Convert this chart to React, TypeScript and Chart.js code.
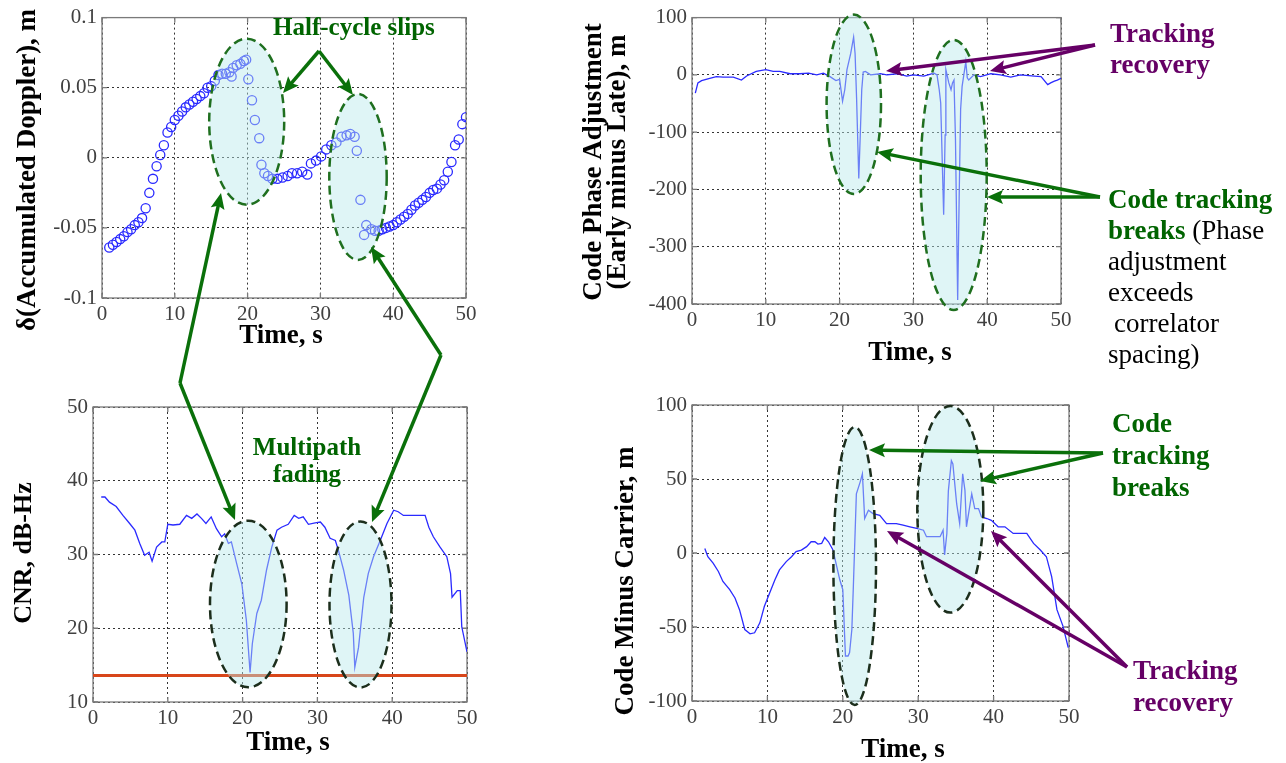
import React, { useEffect, useRef } from "react";
import { Chart, registerables } from "chart.js";

Chart.register(...registerables);

const SERIF = "'Liberation Serif', 'Times New Roman', Times, serif";

// ---------------- data ----------------
const TIME_TICKS = [0, 10, 20, 30, 40, 50];
const DOPPLER_TICKS = [-0.1, -0.05, 0, 0.05, 0.1];
const DOPPLER_TICK_LABELS = ["-0.1", "-0.05", "0", "0.05", "0.1"];
const CNR_TICKS = [10, 20, 30, 40, 50];
const CPA_TICKS = [-400, -300, -200, -100, 0, 100];
const CMC_TICKS = [-100, -50, 0, 50, 100];

// δ(Accumulated Doppler), m
const DOPPLER_T = [1.0, 1.5, 2.0, 2.5, 3.0, 3.5, 4.0, 4.5, 5.0, 5.5, 6.0, 6.5, 7.0, 7.5, 8.0, 8.5, 9.0, 9.5, 10.0, 10.5, 11.0, 11.5, 12.0, 12.5, 13.0, 13.5, 14.0, 14.5, 15.0, 15.5, 16.0, 16.5, 17.0, 17.5, 17.8, 18.0, 18.5, 19.0, 19.5, 19.8, 20.1, 20.6, 21.0, 21.6, 21.9, 22.3, 22.8, 23.4, 24.1, 24.8, 25.5, 26.1, 26.8, 27.5, 28.2, 28.7, 29.4, 30.1, 30.8, 31.5, 32.2, 32.9, 33.6, 34.1, 34.7, 35.0, 35.5, 36.0, 36.3, 37.0, 37.5, 38.0, 38.5, 39.0, 39.5, 40.0, 40.5, 41.0, 41.5, 42.0, 42.5, 43.0, 43.5, 44.0, 44.5, 45.0, 45.5, 46.0, 46.5, 47.0, 47.5, 48.0, 48.5, 49.0, 49.5, 50.0];
const DOPPLER_V = [-0.064, -0.062, -0.06, -0.058, -0.056, -0.053, -0.051, -0.048, -0.046, -0.043, -0.036, -0.025, -0.015, -0.006, 0.002, 0.009, 0.018, 0.022, 0.027, 0.03, 0.033, 0.036, 0.038, 0.04, 0.042, 0.044, 0.046, 0.05, 0.051, 0.055, 0.059, 0.06, 0.06, 0.061, 0.058, 0.064, 0.066, 0.067, 0.069, 0.07, 0.056, 0.041, 0.027, 0.014, -0.005, -0.011, -0.013, -0.015, -0.015, -0.014, -0.013, -0.011, -0.011, -0.01, -0.012, -0.004, -0.002, 0.001, 0.006, 0.009, 0.011, 0.015, 0.016, 0.017, 0.015, 0.005, -0.03, -0.055, -0.048, -0.051, -0.052, -0.052, -0.051, -0.05, -0.049, -0.048, -0.046, -0.044, -0.042, -0.04, -0.037, -0.034, -0.032, -0.03, -0.028, -0.025, -0.023, -0.022, -0.019, -0.016, -0.01, -0.003, 0.009, 0.013, 0.024, 0.029];

// CNR, dB-Hz
const CNR_T = [1.1, 1.6, 2.2, 3.1, 4.0, 4.9, 5.6, 6.25, 6.9, 7.5, 7.9, 8.5, 9.2, 9.6, 10.0, 10.7, 11.6, 12.5, 13.2, 13.9, 14.5, 15.1, 15.8, 16.5, 17.2, 17.6, 18.1, 18.5, 19.2, 19.9, 20.5, 21.0, 21.3, 21.9, 22.5, 23.2, 23.9, 24.6, 25.2, 26.1, 26.9, 27.5, 28.1, 28.8, 29.7, 30.4, 31.0, 31.7, 32.4, 32.8, 33.5, 34.2, 34.8, 35.0, 35.5, 36.2, 36.8, 37.5, 38.4, 39.3, 40.2, 40.8, 41.5, 42.4, 43.3, 44.4, 44.9, 45.5, 46.4, 47.3, 47.8, 48.0, 48.7, 49.1, 49.3, 50.0];
const CNR_V = [37.8, 37.8, 37.1, 36.5, 35.3, 34.2, 33.3, 31.5, 29.9, 30.3, 29.1, 31.0, 31.7, 31.7, 34.1, 34.0, 34.1, 35.3, 34.9, 35.5, 34.9, 34.2, 35.1, 33.5, 32.4, 32.8, 31.5, 31.7, 28.8, 26.0, 21.1, 14.0, 17.9, 22.0, 23.8, 27.9, 31.0, 33.3, 33.7, 34.1, 35.3, 34.9, 35.1, 34.1, 34.3, 34.4, 33.7, 32.2, 31.9, 30.6, 27.9, 24.5, 19.3, 14.7, 17.4, 24.2, 27.4, 29.7, 31.9, 34.2, 36.0, 35.8, 35.3, 35.3, 35.3, 35.3, 33.7, 32.4, 31.0, 29.7, 27.4, 24.2, 25.1, 25.1, 20.2, 16.8];
const THRESHOLD_T = [0, 50];
const THRESHOLD_V = [13.6, 13.6];

// Code Phase Adjustment (Early minus Late), m
const CPA_T = [0.45, 0.8, 1.3, 2.4, 3.3, 4.2, 5.6, 6.7, 7.4, 8.7, 10.0, 11.0, 11.9, 13.3, 14.6, 15.8, 16.9, 17.8, 18.7, 19.5, 20.0, 20.4, 20.7, 21.0, 21.5, 21.9, 22.1, 22.3, 22.6, 22.8, 23.0, 23.2, 23.5, 24.2, 25.5, 26.4, 27.8, 29.1, 30.0, 31.4, 32.8, 33.2, 33.5, 33.7, 34.1, 34.3, 34.4, 34.8, 35.1, 35.3, 35.5, 35.7, 36.0, 36.2, 36.4, 36.6, 37.1, 37.3, 37.5, 38.2, 39.1, 40.5, 41.8, 43.2, 44.5, 46.4, 47.3, 48.2, 48.6, 49.1, 49.5, 50.0];
const CPA_V = [-32, -14, -10, -6, -3, -4, -4, -9, -2, 6, 9, 6, 6, 2, 2, 3, 0, 3, -3, -10, -8, -46, -26, 9, 37, 66, 37, -40, -181, -105, -26, 5, 6, 0, 2, 0, 2, -2, 0, -2, 3, 0, -26, -49, -244, -105, 9, -14, -26, -14, -9, -112, -393, -215, -60, -20, 23, -5, -9, 0, -3, 2, 0, -4, 0, -2, -3, -17, -14, -11, -9, -6];

// Code Minus Carrier, m
const CMC_T = [1.7, 2.1, 2.8, 3.5, 4.1, 5.0, 5.7, 6.3, 7.0, 7.7, 8.3, 9.0, 9.6, 10.3, 11.0, 11.6, 12.5, 13.2, 13.8, 14.5, 15.2, 15.8, 16.3, 16.7, 17.2, 17.6, 18.1, 18.7, 19.2, 19.6, 20.0, 20.35, 20.7, 20.9, 21.2, 21.4, 21.6, 21.8, 22.3, 22.6, 22.9, 23.4, 24.0, 24.9, 25.8, 27.1, 28.0, 28.9, 29.8, 30.7, 31.1, 32.0, 32.9, 33.3, 33.5, 33.8, 34.0, 34.4, 34.6, 35.1, 35.5, 35.9, 36.2, 36.4, 37.1, 37.5, 38.0, 38.4, 39.1, 39.7, 40.6, 41.5, 42.6, 44.4, 45.3, 46.2, 47.0, 47.7, 48.4, 49.2, 49.9];
const CMC_V = [3.1, -2.5, -6.9, -12.5, -19.2, -24.8, -30.4, -38.3, -51.7, -54.6, -53.9, -47.2, -36, -27, -18.1, -11.4, -5.8, -2.5, 0.9, 2.0, 4.3, 7.6, 7.6, 6.0, 6.5, 10.5, 7.6, 2.0, -9.2, -18.1, -24.8, -69.6, -69.6, -67.3, -51.7, -22.6, 8.7, 40, 47.9, 53.5, 23.3, 28.9, 26.6, 25.5, 19.9, 19.9, 18.8, 17.7, 16.6, 15.4, 11, 11, 11, 15.4, -1.3, 13.2, 42, 62.4, 60.2, 33.3, 19.9, 53.5, 42.3, 17.7, 40, 30, 30, 24.4, 23.3, 22.1, 17.7, 17.7, 13.2, 13.2, 6.5, 2.0, -2.5, -15.9, -38.3, -49.4, -64];

// ---------------- styling / layout ----------------
const W = 1286;
const H = 763;
const YW = 60;
const XH = 32;
const BLUE = "#2a2aff";
const RED = "#d8461a";
const GREEN_T = "#006400";
const GREEN_A = "#0a700a";
const GREEN_D = "#1f6f1f";
const DARK_D = "#1c2e1c";
const PURPLE = "#660066";

type Box = { L: number; T: number; R: number; B: number };
type TitleItem = { lines: string[]; x: number; y: number; rotate: boolean; size: number; lh?: number };

const toXY = (t: number[], v: number[]) => t.map((x, i) => ({ x, y: v[i] }));

const framePlugin = {
  id: "matlabFrame",
  beforeDatasetsDraw(chart: any) {
    const { ctx, chartArea: a, scales } = chart;
    ctx.save();
    ctx.strokeStyle = "#7a7a7a";
    ctx.lineWidth = 1.3;
    ctx.strokeRect(a.left, a.top, a.right - a.left, a.bottom - a.top);
    ctx.beginPath();
    scales.x.ticks.forEach((t: any) => {
      const x = scales.x.getPixelForValue(t.value);
      ctx.moveTo(x, a.bottom);
      ctx.lineTo(x, a.bottom - 5);
      ctx.moveTo(x, a.top);
      ctx.lineTo(x, a.top + 5);
    });
    scales.y.ticks.forEach((t: any) => {
      const y = scales.y.getPixelForValue(t.value);
      ctx.moveTo(a.left, y);
      ctx.lineTo(a.left + 5, y);
      ctx.moveTo(a.right, y);
      ctx.lineTo(a.right - 5, y);
    });
    ctx.stroke();
    ctx.restore();
  },
};

function titlesPlugin(items: TitleItem[]) {
  return {
    id: "axisTitles",
    afterDraw(chart: any) {
      const ctx = chart.ctx;
      items.forEach((it) => {
        ctx.save();
        ctx.translate(it.x, it.y);
        if (it.rotate) ctx.rotate(-Math.PI / 2);
        ctx.font = `bold ${it.size}px ${SERIF}`;
        ctx.fillStyle = "#000";
        ctx.textAlign = "center";
        ctx.textBaseline = it.rotate ? "middle" : "alphabetic";
        it.lines.forEach((ln, i) => ctx.fillText(ln, 0, i * (it.lh || it.size)));
        ctx.restore();
      });
    },
  };
}

function axisOptions(box: Box, yMin: number, yMax: number, yTicks: number[], yLabels: string[]) {
  const tickFont = { family: SERIF, size: 21 };
  return {
    responsive: false,
    animation: false,
    events: [],
    layout: { padding: { left: box.L - YW, top: box.T, right: W - box.R, bottom: H - box.B - XH } },
    plugins: { legend: { display: false }, tooltip: { enabled: false }, title: { display: false } },
    scales: {
      x: {
        type: "linear",
        min: 0,
        max: 50,
        afterBuildTicks: (s: any) => {
          s.ticks = TIME_TICKS.map((v) => ({ value: v }));
        },
        afterFit: (s: any) => {
          s.height = XH;
        },
        grid: { color: "#333", lineWidth: 1, drawTicks: false },
        border: { display: false, dash: [2, 3] },
        ticks: {
          font: tickFont,
          color: "#404040",
          padding: 4,
          maxRotation: 0,
          autoSkip: false,
          callback: (_v: any, i: number) => String(TIME_TICKS[i]),
        },
      },
      y: {
        type: "linear",
        min: yMin,
        max: yMax,
        afterBuildTicks: (s: any) => {
          s.ticks = yTicks.map((v) => ({ value: v }));
        },
        afterFit: (s: any) => {
          s.width = YW;
        },
        grid: { color: "#333", lineWidth: 1, drawTicks: false },
        border: { display: false, dash: [2, 3] },
        ticks: {
          font: tickFont,
          color: "#404040",
          padding: 5,
          autoSkip: false,
          callback: (_v: any, i: number) => yLabels[i],
        },
      },
    },
  };
}

const lineDs = (t: number[], v: number[], color: string, width: number) => ({
  data: toXY(t, v),
  showLine: true,
  borderColor: color,
  borderWidth: width,
  pointRadius: 0,
  fill: false,
  tension: 0,
});

// ---------------- annotations ----------------
const ELLIPSES = [
  { cx: 246.7, cy: 121.7, rx: 37.5, ry: 83, c: GREEN_D },
  { cx: 358, cy: 177, rx: 28.7, ry: 83, c: GREEN_D },
  { cx: 248.3, cy: 604, rx: 38.3, ry: 83.3, c: DARK_D },
  { cx: 360.5, cy: 604.5, rx: 31, ry: 83, c: DARK_D },
  { cx: 853.8, cy: 104.3, rx: 27.2, ry: 89.7, c: GREEN_D },
  { cx: 953.7, cy: 175, rx: 33, ry: 135, c: GREEN_D },
  { cx: 854.7, cy: 566, rx: 21.3, ry: 139, c: DARK_D },
  { cx: 950.3, cy: 509.3, rx: 33, ry: 103.3, c: DARK_D },
];

const ARROWS = [
  { x1: 319, y1: 51, x2: 283, y2: 93, c: GREEN_A },
  { x1: 319, y1: 51, x2: 353, y2: 95, c: GREEN_A },
  { x1: 180, y1: 383, x2: 221, y2: 193, c: GREEN_A },
  { x1: 180, y1: 383, x2: 235, y2: 520, c: GREEN_A },
  { x1: 441, y1: 355, x2: 371, y2: 247, c: GREEN_A },
  { x1: 441, y1: 355, x2: 372, y2: 522, c: GREEN_A },
  { x1: 1100, y1: 197, x2: 877, y2: 152, c: GREEN_A },
  { x1: 1100, y1: 197, x2: 987, y2: 197, c: GREEN_A },
  { x1: 1103, y1: 453, x2: 869, y2: 450, c: GREEN_A },
  { x1: 1103, y1: 453, x2: 980, y2: 481, c: GREEN_A },
  { x1: 1095, y1: 45, x2: 886, y2: 71, c: PURPLE },
  { x1: 1095, y1: 45, x2: 990, y2: 71, c: PURPLE },
  { x1: 1127, y1: 667, x2: 887, y2: 531, c: PURPLE },
  { x1: 1127, y1: 667, x2: 991, y2: 531, c: PURPLE },
];

function Arrow({ a }: { a: { x1: number; y1: number; x2: number; y2: number; c: string } }) {
  const dx = a.x2 - a.x1;
  const dy = a.y2 - a.y1;
  const len = Math.hypot(dx, dy);
  const ux = dx / len;
  const uy = dy / len;
  const hl = 16;
  const hw = 7;
  const bx = a.x2 - ux * hl;
  const by = a.y2 - uy * hl;
  const pts = `${a.x2},${a.y2} ${bx - uy * hw},${by + ux * hw} ${bx + ux * 3},${by + uy * 3} ${bx + uy * hw},${by - ux * hw}`;
  return (
    <g>
      <line x1={a.x1} y1={a.y1} x2={bx + ux * 4} y2={by + uy * 4} stroke={a.c} strokeWidth={3.5} />
      <polygon points={pts} fill={a.c} />
    </g>
  );
}

export default function App() {
  const c1 = useRef<HTMLCanvasElement>(null);
  const c2 = useRef<HTMLCanvasElement>(null);
  const c3 = useRef<HTMLCanvasElement>(null);
  const c4 = useRef<HTMLCanvasElement>(null);

  useEffect(() => {
    const charts: Chart[] = [];

    const box1 = { L: 102, T: 14, R: 466, B: 298 };
    charts.push(
      new Chart(c1.current as HTMLCanvasElement, {
        type: "scatter",
        data: {
          datasets: [
            {
              data: toXY(DOPPLER_T, DOPPLER_V),
              showLine: false,
              pointRadius: 4.6,
              pointBorderWidth: 1.3,
              pointBorderColor: BLUE,
              pointBackgroundColor: "rgba(0,0,0,0)",
            },
          ],
        },
        options: axisOptions(box1, -0.1, 0.1, DOPPLER_TICKS, DOPPLER_TICK_LABELS) as any,
        plugins: [
          framePlugin,
          titlesPlugin([
            { lines: ["δ(Accumulated Doppler), m"], x: 28, y: 170, rotate: true, size: 27 },
            { lines: ["Time, s"], x: 281, y: 343, rotate: false, size: 27 },
          ]),
        ],
      })
    );

    const box2 = { L: 93, T: 407, R: 467, B: 702 };
    charts.push(
      new Chart(c2.current as HTMLCanvasElement, {
        type: "scatter",
        data: {
          datasets: [lineDs(CNR_T, CNR_V, BLUE, 1.3), lineDs(THRESHOLD_T, THRESHOLD_V, RED, 3)],
        },
        options: axisOptions(box2, 10, 50, CNR_TICKS, CNR_TICKS.map(String)) as any,
        plugins: [
          framePlugin,
          titlesPlugin([
            { lines: ["CNR, dB-Hz"], x: 24, y: 553, rotate: true, size: 26 },
            { lines: ["Time, s"], x: 288, y: 750, rotate: false, size: 27 },
          ]),
        ],
      })
    );

    const box3 = { L: 692, T: 15, R: 1061, B: 304 };
    charts.push(
      new Chart(c3.current as HTMLCanvasElement, {
        type: "scatter",
        data: { datasets: [lineDs(CPA_T, CPA_V, BLUE, 1.3)] },
        options: axisOptions(box3, -400, 100, CPA_TICKS, CPA_TICKS.map(String)) as any,
        plugins: [
          framePlugin,
          titlesPlugin([
            { lines: ["Code Phase Adjustment", "(Early minus Late), m"], x: 594, y: 162, rotate: true, size: 27, lh: 24 },
            { lines: ["Time, s"], x: 910, y: 360, rotate: false, size: 27 },
          ]),
        ],
      })
    );

    const box4 = { L: 692, T: 405, R: 1069, B: 701 };
    charts.push(
      new Chart(c4.current as HTMLCanvasElement, {
        type: "scatter",
        data: { datasets: [lineDs(CMC_T, CMC_V, BLUE, 1.3)] },
        options: axisOptions(box4, -100, 100, CMC_TICKS, CMC_TICKS.map(String)) as any,
        plugins: [
          framePlugin,
          titlesPlugin([
            { lines: ["Code Minus Carrier, m"], x: 626, y: 581, rotate: true, size: 27 },
            { lines: ["Time, s"], x: 903, y: 757, rotate: false, size: 27 },
          ]),
        ],
      })
    );

    return () => charts.forEach((c) => c.destroy());
  }, []);

  const cs: React.CSSProperties = { position: "absolute", left: 0, top: 0 };
  const txt = { fontFamily: SERIF, fontSize: 27 } as const;

  return (
    <div style={{ position: "absolute", left: 0, top: 0, width: W, height: H, background: "#fff", overflow: "hidden" }}>
      <canvas ref={c1} width={W} height={H} style={cs} />
      <canvas ref={c2} width={W} height={H} style={cs} />
      <canvas ref={c3} width={W} height={H} style={cs} />
      <canvas ref={c4} width={W} height={H} style={cs} />
      <svg width={W} height={H} style={{ ...cs, pointerEvents: "none" }}>
        {ELLIPSES.map((e, i) => (
          <ellipse
            key={"e" + i}
            cx={e.cx}
            cy={e.cy}
            rx={e.rx}
            ry={e.ry}
            fill="rgba(185,232,236,0.45)"
            stroke={e.c}
            strokeWidth={2.5}
            strokeDasharray="9 5"
          />
        ))}
        {ARROWS.map((a, i) => (
          <Arrow key={"a" + i} a={a} />
        ))}
        <text x={273} y={35} fill={GREEN_T} fontWeight="bold" fontFamily={SERIF} fontSize={25}>
          Half-cycle slips
        </text>
        <text x={307} y={455} textAnchor="middle" fill={GREEN_T} fontWeight="bold" fontFamily={SERIF} fontSize={25}>
          Multipath
        </text>
        <text x={307} y={482} textAnchor="middle" fill={GREEN_T} fontWeight="bold" fontFamily={SERIF} fontSize={25}>
          fading
        </text>
        <text x={1110} y={42} fill={PURPLE} fontWeight="bold" {...txt}>
          Tracking
        </text>
        <text x={1110} y={73} fill={PURPLE} fontWeight="bold" {...txt}>
          recovery
        </text>
        <text x={1108} y={208} fill={GREEN_T} fontWeight="bold" {...txt}>
          Code tracking
        </text>
        <text x={1108} y={239} {...txt}>
          <tspan fill={GREEN_T} fontWeight="bold">breaks</tspan>
          <tspan fill="#000" fontWeight="normal">{" (Phase"}</tspan>
        </text>
        <text x={1108} y={270} fill="#000" {...txt}>
          adjustment
        </text>
        <text x={1108} y={301} fill="#000" {...txt}>
          exceeds
        </text>
        <text x={1114} y={332} fill="#000" {...txt}>
          correlator
        </text>
        <text x={1108} y={363} fill="#000" {...txt}>
          spacing)
        </text>
        <text x={1112} y={432} fill={GREEN_T} fontWeight="bold" {...txt}>
          Code
        </text>
        <text x={1112} y={464} fill={GREEN_T} fontWeight="bold" {...txt}>
          tracking
        </text>
        <text x={1112} y={496} fill={GREEN_T} fontWeight="bold" {...txt}>
          breaks
        </text>
        <text x={1133} y={679} fill={PURPLE} fontWeight="bold" {...txt}>
          Tracking
        </text>
        <text x={1133} y={711} fill={PURPLE} fontWeight="bold" {...txt}>
          recovery
        </text>
      </svg>
    </div>
  );
}
